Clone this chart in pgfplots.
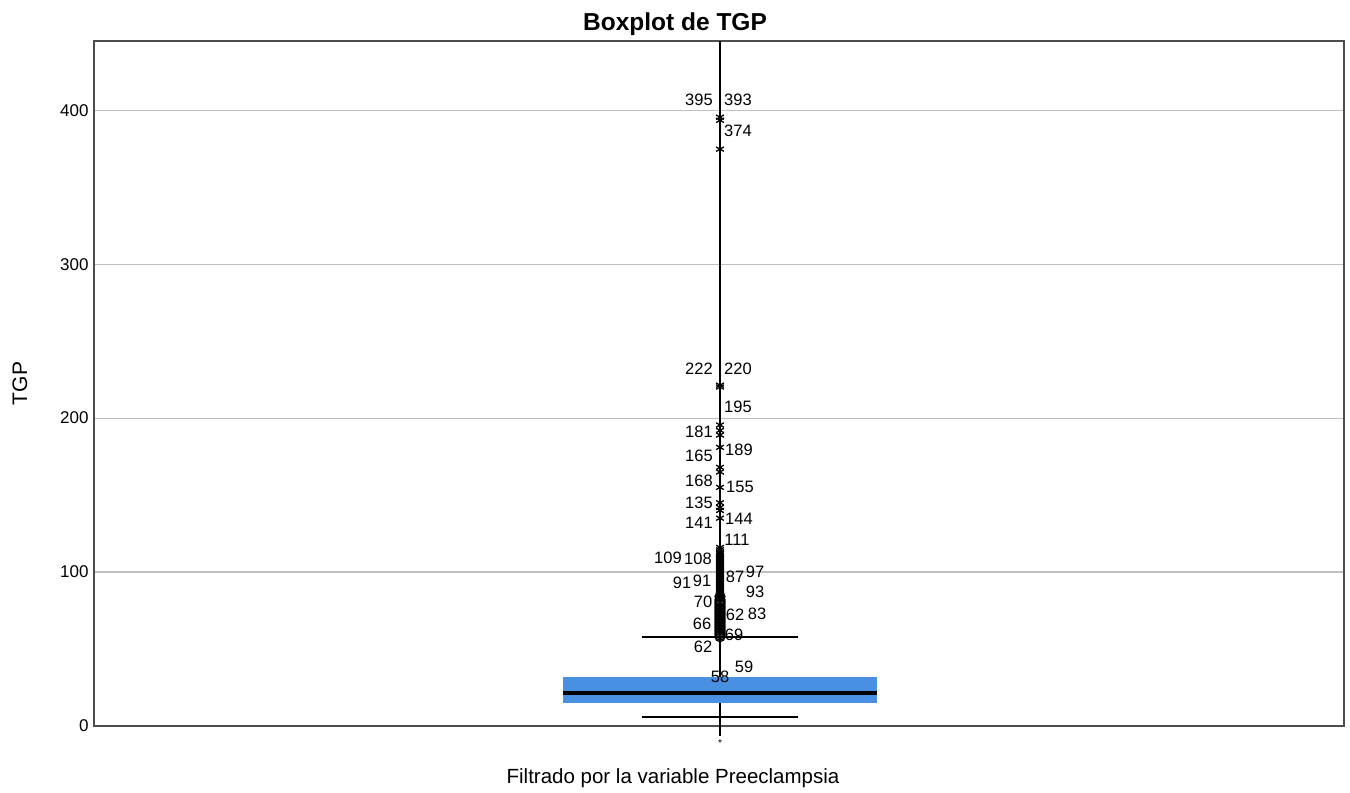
\documentclass[border=0pt]{standalone}
\usepackage{fontspec}
\setmainfont{Liberation Sans}
\usepackage{pgfplots}
\pgfplotsset{compat=1.18}
\definecolor{boxblue}{RGB}{74,144,226}
\newcommand{\lab}{\fontsize{16.5}{19}\selectfont}
\begin{document}
\begin{tikzpicture}
\begin{axis}[
  scale only axis, width=1250pt, height=685pt,
  xmin=-626, xmax=624, ymin=0, ymax=445,
  axis line style={draw=black!70, line width=1.6pt},
  ytick={0,100,200,300,400},
  xtick=\empty,
  ymajorgrids, grid style={draw=black!25, line width=1.2pt},
  major tick length=0pt,
  /pgf/number format/assume math mode=true,
  yticklabel style={font=\fontsize{17}{20}\selectfont, xshift=-2pt},
  title={Boxplot de TGP},
  every axis title/.style={at={(axis description cs:0.4648,1.024)}, anchor=center, font=\bfseries\fontsize{24.5}{28}\selectfont},
  xlabel={Filtrado por la variable Preeclampsia},
  xlabel style={at={(axis description cs:0.4632,-0.0759)}, anchor=center, font=\fontsize{20.5}{24}\selectfont},
  ylabel={TGP},
  every axis y label/.style={at={(axis description cs:-0.0592,0.5)}, anchor=center, rotate=90, font=\fontsize{21}{24}\selectfont},
  clip=false,
]
% central vertical line
\addplot[black, line width=1.8pt] coordinates {(0,-6.5) (0,445)};
% whisker caps
\addplot[black, line width=1.8pt] coordinates {(-78,57.8) (78,57.8)};
\addplot[black, line width=1.8pt] coordinates {(-78,6.0) (78,6.0)};
% box
\addplot[fill=boxblue, draw=none] coordinates {(-157,14.7) (157,14.7) (157,32) (-157,32)} -- cycle;
% median
\addplot[black, line width=4pt] coordinates {(-157,21.2) (157,21.2)};
% mild outliers
\addplot[only marks, mark=o, mark size=5pt, black, line width=1.2pt] coordinates {
(0,84) (0,82) (0,81) (0,80) (0,79) (0,78) (0,77) (0,76) (0,75) (0,74) (0,73) (0,72) (0,71)
(0,70) (0,69) (0,68) (0,67) (0,66) (0,65) (0,64) (0,63) (0,62) (0,61) (0,60) (0,59) (0,58)};
% extreme outliers
\addplot[only marks, mark=asterisk, mark size=4.5pt, black, line width=1.3pt] coordinates {
(0,395.5) (0,393.5) (0,374.7) (0,221.4) (0,220.2) (0,195.5) (0,192) (0,189) (0,181) (0,168)
(0,165) (0,155) (0,145) (0,142) (0,140) (0,135) (0,116) (0,114.5) (0,113) (0,112) (0,111)
(0,110) (0,109) (0,108) (0,107) (0,106) (0,105) (0,104) (0,103) (0,102) (0,101) (0,100)
(0,99) (0,98) (0,97) (0,96) (0,95) (0,94) (0,93) (0,92) (0,91) (0,90) (0,89) (0,88) (0,87)
(0,86) (0,85) (0,83)};
% case labels
\begin{scope}[every node/.style={font=\lab, inner sep=0pt, anchor=center}]
\node at (axis cs:-21,406.5) {395};
\node at (axis cs:18,406.5) {393};
\node at (axis cs:18,386.4) {374};
\node at (axis cs:-21,231.8) {222};
\node at (axis cs:18,231.8) {220};
\node at (axis cs:18,207.1) {195};
\node at (axis cs:-21,190.9) {181};
\node at (axis cs:19,179.2) {189};
\node at (axis cs:-21,175.3) {165};
\node at (axis cs:-21,159.1) {168};
\node at (axis cs:20,155.2) {155};
\node at (axis cs:-21,144.8) {135};
\node at (axis cs:-21,131.8) {141};
\node at (axis cs:19,134.4) {144};
\node at (axis cs:17,120.8) {111};
\node at (axis cs:-52,109.1) {109};
\node at (axis cs:-22,108.4) {108};
\node at (axis cs:35,100) {97};
\node at (axis cs:15,96.8) {87};
\node at (axis cs:-38,92.9) {91};
\node at (axis cs:-18,94.2) {91};
\node at (axis cs:35,87) {93};
\node at (axis cs:-17,80.5) {70};
\node at (axis cs:15,72.1) {62};
\node at (axis cs:37,72.7) {83};
\node at (axis cs:-18,66.2) {66};
\node at (axis cs:14,59.1) {69};
\node at (axis cs:-17,51.3) {62};
\node at (axis cs:24,38.3) {59};
\node at (axis cs:0,31.8) {58};
\node[font=\fontsize{10}{12}\selectfont] at (axis cs:0,-11) {*};
\end{scope}
\end{axis}
\pgfresetboundingbox
\path ([shift={(-94pt,-67pt)}]current axis.south west) rectangle ([shift={(6pt,41pt)}]current axis.north east);
\end{tikzpicture}
\end{document}
